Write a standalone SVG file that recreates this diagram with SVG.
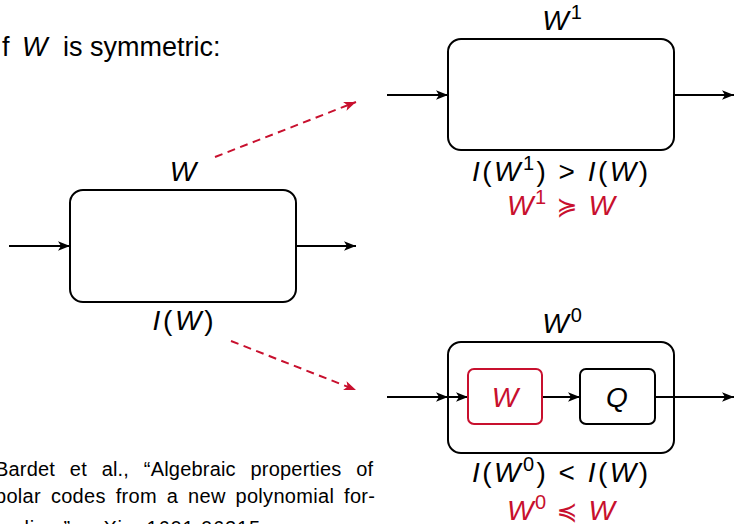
<svg xmlns="http://www.w3.org/2000/svg" width="735" height="524" viewBox="0 0 735 524">
<style>
.t{font-family:"Liberation Sans",Arial,sans-serif;fill:#000}
.m{font-family:"Liberation Sans",Arial,sans-serif;font-size:28px;fill:#000}
.i{font-style:italic}
.red{fill:#c8102e}
.sym{font-family:"DejaVu Sans",sans-serif}
.box{fill:none;stroke:#000;stroke-width:2}
.rbox{fill:none;stroke:#c8102e;stroke-width:2}
.c{fill:none;stroke:#000;stroke-width:2}
.d{fill:none;stroke:#c8102e;stroke-width:2;stroke-dasharray:8 5.5}
</style>
<defs>
<marker id="ah" markerUnits="userSpaceOnUse" markerWidth="14" markerHeight="12" viewBox="-13 -6 14 12" refX="0" refY="0" orient="auto">
<path d="M-12,-4.8 L0,0 L-12,4.8 L-9,0 Z" fill="#000"/>
</marker>
<marker id="ahr" markerUnits="userSpaceOnUse" markerWidth="14" markerHeight="12" viewBox="-13 -6 14 12" refX="0" refY="0" orient="auto">
<path d="M-12,-4.8 L0,0 L-12,4.8 L-9,0 Z" fill="#c8102e"/>
</marker>
</defs>

<text class="t" font-size="27" y="56"><tspan x="2">f</tspan><tspan x="22" class="i">W</tspan><tspan x="63">is symmetric:</tspan></text>

<g id="cite" class="t" font-size="20">
<text x="-5" y="476" textLength="378" lengthAdjust="spacing" word-spacing="9">Bardet et al., “Algebraic properties of</text>
<text x="-5" y="503" textLength="380" lengthAdjust="spacing" word-spacing="4">polar codes from a new polynomial for-</text>
<text x="-5" y="535" textLength="265" lengthAdjust="spacing">malism”, arXiv: 1601.06215</text>
</g>

<g id="connectors">
<line class="c" x1="9" y1="246" x2="70" y2="246" marker-end="url(#ah)"/>
<line class="c" x1="296" y1="246" x2="356" y2="246" marker-end="url(#ah)"/>
<line class="c" x1="387" y1="95" x2="448" y2="95" marker-end="url(#ah)"/>
<line class="c" x1="674" y1="95" x2="734" y2="95" marker-end="url(#ah)"/>
<line class="c" x1="387" y1="397" x2="448" y2="397" marker-end="url(#ah)"/>
<line class="c" x1="448" y1="397" x2="468" y2="397" marker-end="url(#ah)"/>
<line class="c" x1="542" y1="397" x2="580" y2="397" marker-end="url(#ah)"/>
<line class="c" x1="655" y1="397" x2="734" y2="397" marker-end="url(#ah)"/>
<line class="d" x1="215" y1="157" x2="356" y2="102" marker-end="url(#ahr)"/>
<line class="d" x1="231" y1="341" x2="356" y2="390" marker-end="url(#ahr)"/>
</g>

<g id="W">
<rect class="box" x="70" y="190" width="226" height="112" rx="13"/>
<text class="m i" x="183" y="181" text-anchor="middle">W</text>
<text class="m" x="183" y="330" text-anchor="middle" textLength="61" lengthAdjust="spacing"><tspan class="i">I</tspan>(<tspan class="i">W</tspan>)</text>
</g>

<g id="W1">
<rect class="box" x="448" y="39" width="226" height="111" rx="13"/>
<text class="m" x="562" y="30" text-anchor="middle"><tspan class="i">W</tspan><tspan font-size="20" dy="-11" dx="2">1</tspan></text>
<text class="m" x="560" y="181" text-anchor="middle" textLength="176" lengthAdjust="spacing"><tspan class="i">I</tspan>(<tspan class="i">W</tspan><tspan font-size="20" dy="-11">1</tspan><tspan dy="11">) &gt; </tspan><tspan class="i">I</tspan>(<tspan class="i">W</tspan>)</text>
<text class="m red" x="561" y="215" text-anchor="middle" textLength="108" lengthAdjust="spacing"><tspan class="i">W</tspan><tspan font-size="20" dy="-11">1</tspan><tspan dy="11"> </tspan><tspan class="sym" font-size="25">≽</tspan> <tspan class="i">W</tspan></text>
</g>

<g id="W0">
<rect class="box" x="448" y="342" width="226" height="111" rx="13"/>
<text class="m" x="562" y="333" text-anchor="middle"><tspan class="i">W</tspan><tspan font-size="20" dy="-11" dx="2">0</tspan></text>
<text class="m" x="560" y="482" text-anchor="middle" textLength="176" lengthAdjust="spacing"><tspan class="i">I</tspan>(<tspan class="i">W</tspan><tspan font-size="20" dy="-11">0</tspan><tspan dy="11">) &lt; </tspan><tspan class="i">I</tspan>(<tspan class="i">W</tspan>)</text>
<text class="m red" x="561" y="520" text-anchor="middle" textLength="108" lengthAdjust="spacing"><tspan class="i">W</tspan><tspan font-size="20" dy="-11">0</tspan><tspan dy="11"> </tspan><tspan class="sym" font-size="25">≼</tspan> <tspan class="i">W</tspan></text>
</g>

<g id="Winner">
<rect class="rbox" x="468" y="369" width="74" height="55" rx="6"/>
<text class="m i red" x="505" y="407" text-anchor="middle">W</text>
</g>

<g id="Q">
<rect class="box" x="580" y="369" width="75" height="55" rx="6"/>
<text class="m i" x="617" y="407" text-anchor="middle">Q</text>
</g>
</svg>
